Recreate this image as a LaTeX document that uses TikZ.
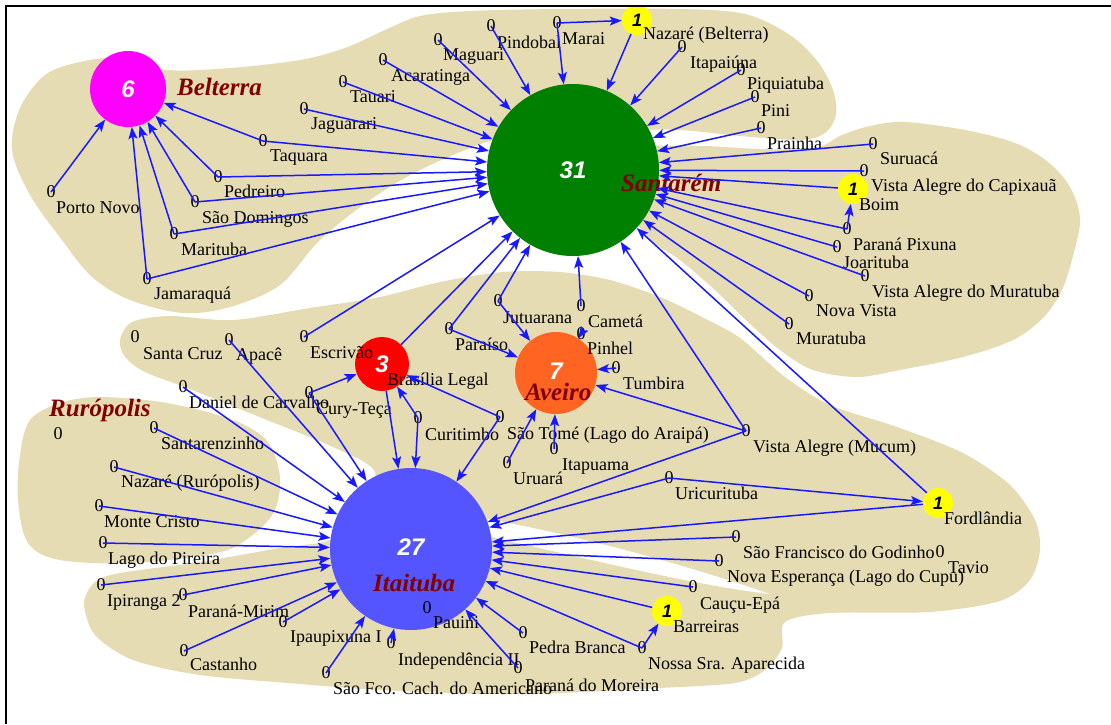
\documentclass[tikz,border=0pt]{standalone}
\usepackage{fontspec}
\setmainfont{Liberation Serif}
\newfontfamily\hubfont{Liberation Sans}
\usetikzlibrary{arrows.meta}
\definecolor{blobc}{RGB}{230,220,180}
\definecolor{arrblue}{RGB}{25,25,255}
\definecolor{regred}{RGB}{128,0,0}
\definecolor{avorange}{RGB}{255,100,34}
\definecolor{itblue}{RGB}{85,85,255}
\definecolor{sgreen}{RGB}{0,128,0}
\definecolor{bmag}{RGB}{255,0,255}
\definecolor{hred}{RGB}{255,0,0}
\definecolor{hyel}{RGB}{255,255,0}
\newcommand\lblfont{\fontsize{18}{20}\selectfont}
\newcommand\numfont{\hubfont\bfseries\itshape\fontsize{24}{26}\selectfont}
\newcommand\onefont{\hubfont\bfseries\itshape\fontsize{18}{20}\selectfont}
\newcommand\regfont{\bfseries\itshape\fontsize{25}{27}\selectfont}
\newcommand\pl[4]{\node[zero] (#1) at (#2) {0}; \node[lab] (#1l) at (#3) {#4};}
\begin{document}
\begin{tikzpicture}[x=1pt,y=-1pt,
  zero/.style={inner sep=0pt, font=\lblfont},
  lab/.style={anchor=base west, inner sep=0pt, font=\lblfont},
  hubc/.style={circle, inner sep=0pt, text=white, font=\numfont},
  yel/.style={circle, fill=hyel, minimum size=30pt, inner sep=0pt, font=\onefont},
  reg/.style={anchor=base west, inner sep=0pt, text=regred, font=\regfont},
  arr/.style={draw=arrblue, line width=1.5pt, -{Stealth[length=12pt,width=9pt,inset=2.5pt]}}
]
\useasboundingbox (0,0) rectangle (1111,724);
\fill[white] (0,0) rectangle (1111,724);
% ---- regions
\fill[blobc] plot[smooth cycle, tension=0.55] coordinates {(12,150) (20,108) (45,75) (80,62) (120,58) (167,70) (230,68) (300,60) (345,48) (385,30) (420,16) (470,11) (560,9) (680,9) (745,14) (790,35) (818,62) (833,90) (836,115) (825,133) (800,140) (740,136) (680,130) (620,130) (540,132) (487,142) (420,170) (370,200) (320,240) (280,285) (230,307) (183,313) (130,300) (92,277) (62,240) (30,195)};
\fill[blobc] plot[smooth cycle, tension=0.55] coordinates {(640,150) (700,146) (760,149) (815,148) (842,135) (870,126) (905,122) (965,130) (1015,143) (1048,162) (1070,187) (1080,218) (1074,252) (1062,290) (1043,318) (1013,340) (963,357) (900,370) (857,377) (813,370) (780,350) (748,322) (715,290) (680,260) (645,235) (625,190)};
\fill[blobc] plot[smooth cycle, tension=0.55] coordinates {(30,420) (60,403) (100,397) (167,403) (233,420) (268,442) (280,478) (274,512) (250,537) (217,553) (133,563) (60,560) (28,543) (18,500) (20,455)};
\fill[blobc] plot[smooth cycle, tension=0.5] coordinates {(120,340) (132,322) (170,316) (233,320) (310,308) (380,297) (440,282) (503,272) (560,272) (610,280) (660,297) (700,316) (740,338) (785,377) (830,405) (897,427) (963,453) (1010,485) (1035,520) (1040,550) (1030,580) (1000,601) (930,612) (830,613) (785,622) (782,648) (765,670) (735,683) (660,688) (560,693) (480,694) (380,690) (300,684) (200,675) (133,660) (95,635) (84,603) (95,582) (120,573) (200,562) (280,548) (330,540) (360,515) (375,472) (333,447) (267,420) (187,388) (145,372) (125,357)};
\fill[white] (488,519) .. controls (600,540) and (700,570) .. (770,594) .. controls (700,586) and (600,562) .. (488,536) -- cycle;
% ---- hubs
\node[hubc, fill=bmag, minimum size=76pt] (belt) at (128,89) {6};
\node[hubc, fill=sgreen, minimum size=172pt] (sant) at (573,170) {31};
\node[hubc, fill=avorange, minimum size=82pt] (avei) at (556,373) {\raisebox{3pt}{7}};
\node[hubc, fill=hred, minimum size=54pt] (bras) at (382,364) {3};
\node[hubc, fill=itblue, minimum size=162pt] (itai) at (411,549) {\raisebox{3pt}{27}};
\node[yel] (naz) at (637,20) {1};
\node[yel] (boim) at (853,189) {1};
\node[yel] (ford) at (938,503) {1};
\node[yel] (barr) at (667,611) {1};
% ---- region names
\node[reg] (rbelt) at (177,95) {Belterra};
\node[reg] (rsant) at (621,191) {Santarém};
\node[reg] (ravei) at (525,400) {Aveiro};
\node[reg] (ritai) at (373,591) {Itaituba};
\node[reg] (rruro) at (49,416) {Rurópolis};
% ---- labels of hubs
\node[lab] (nazl) at (643,39) {Nazaré (Belterra)};
\node[lab] (boiml) at (859,210) {Boim};
\node[lab] (fordl) at (944,524) {Fordlândia};
\node[lab] (barrl) at (673,632) {Barreiras};
\node[lab] (brasl) at (387,385) {Brasília Legal};
% ---- leaves
\pl{acar}{383,60}{391,81}{Acaratinga}
\pl{magu}{438,40}{443,60}{Maguari}
\pl{pind}{491,26}{497,48}{Pindobal}
\pl{mara}{557,23}{562,44}{Marai}
\pl{itap}{682,47}{690,68}{Itapaiúna}
\pl{piqu}{741,70}{747,89}{Piquiatuba}
\pl{pini}{755,97}{761,116}{Pini}
\pl{prai}{761,128}{767,149}{Prainha}
\pl{suru}{873,144}{880,164}{Suruacá}
\pl{vacap}{864,171}{871,191}{Vista Alegre do Capixauã}
\pl{ppix}{847,229}{853,250}{Paraná Pixuna}
\pl{joar}{837,247}{843,268}{Joarituba}
\pl{vamur}{865,276}{872,297}{Vista Alegre do Muratuba}
\pl{nvis}{809,296}{816,316}{Nova Vista}
\pl{mura}{789,324}{796,344}{Muratuba}
\pl{taua}{343,82}{350,102}{Tauari}
\pl{jagu}{304,109}{311,129}{Jaguarari}
\pl{taqu}{263,141}{270,161}{Taquara}
\pl{pedr}{218,177}{224,197}{Pedreiro}
\pl{sdom}{195,202}{202,223}{São Domingos}
\pl{mari}{174,234}{181,255}{Marituba}
\pl{jama}{147,279}{154,299}{Jamaraquá}
\pl{pnov}{51,192}{56,213}{Porto Novo}
\pl{scruz}{135,337}{143,359}{Santa Cruz}
\pl{apac}{229,340}{236,360}{Apacê}
\pl{escr}{304,337}{310,358}{Escrivão}
\pl{dani}{183,387}{189,408}{Daniel de Carvalho}
\pl{cury}{309,393}{316,414}{Cury-Teça}
\pl{curi}{418,418}{425,440}{Curitimbo}
\pl{stome}{500,417}{507,439}{São Tomé (Lago do Araipá)}
\pl{para}{449,329}{455,350}{Paraíso}
\pl{jutu}{498,301}{503,323}{Jutuarana}
\pl{came}{581,306}{588,327}{Cametá}
\pl{pinh}{581,334}{587,354}{Pinhel}
\pl{tumb}{616,368}{623,389}{Tumbira}
\pl{urua}{507,463}{513,484}{Uruará}
\pl{itpu}{554,449}{562,470}{Itapuama}
\pl{vamuc}{746,431}{753,452}{Vista Alegre (Mucum)}
\pl{uric}{669,478}{675,499}{Uricurituba}
\pl{sfg}{736,537}{743,558}{São Francisco do Godinho}
\pl{tavio}{940,552}{948,573}{Tavio}
\pl{nesp}{719,561}{727,582}{Nova Esperança (Lago do Cupu)}
\pl{caucu}{693,587}{700,609}{Cauçu-Epá}
\pl{nsra}{642,648}{648,669}{Nossa Sra. Aparecida}
\pl{pbra}{523,633}{529,653}{Pedra Branca}
\pl{pmor}{518,668}{525,691}{Paraná do Moreira}
\pl{paui}{427,608}{433,628}{Pauini}
\pl{inde}{391,643}{398,665}{Independência II}
\pl{sfco}{326,673}{333,694}{São Fco. Cach. do Americano}
\pl{ipau}{283,622}{290,642}{Ipaupixuna I}
\pl{cast}{184,651}{190,670}{Castanho}
\pl{pmir}{183,595}{188,617}{Paraná-Mirim}
\pl{ipir}{101,585}{107,606}{Ipiranga 2}
\pl{lpir}{103,543}{108,564}{Lago do Pireira}
\pl{mcri}{99,506}{104,527}{Monte Cristo}
\pl{nazr}{114,467}{121,487}{Nazaré (Rurópolis)}
\pl{szin}{154,428}{161,449}{Santarenzinho}
\node[zero] (ruro) at (58,434) {0};
% ---- connectors
\foreach \a in {pnov,taqu,pedr,sdom,mari,jama} \draw[arr] (\a.center) -- (belt);
\foreach \a in {acar,magu,pind,mara,itap,piqu,pini,prai,suru,vacap,ppix,joar,vamur,nvis,mura,taua,jagu,taqu,pedr,sdom,mari,jama,escr,para,jutu,came,vamuc} \draw[arr] (\a.center) -- (sant);
\foreach \a in {naz,boim,bras,ford} \draw[arr] (\a) -- (sant);
\draw[arr] (mara.center) -- (naz);
\draw[arr] (ppix.center) -- (boim);
\foreach \a in {jutu,para,pinh,tumb,vamuc,urua,itpu} \draw[arr] (\a.center) -- (avei);
\foreach \a in {cury,curi,stome} \draw[arr] (\a.center) -- (bras);
\foreach \a in {curi,stome,cury,apac,dani,szin,nazr,mcri,lpir,ipir,pmir,cast,ipau,sfco,inde,pmor,pbra,nsra,caucu,nesp,sfg,uric,vamuc} \draw[arr] (\a.center) -- (itai);
\foreach \a in {bras,barr,ford} \draw[arr] (\a) -- (itai);
\draw[arr] (uric.center) -- (ford);
\draw[arr] (nsra.center) -- (barr);
% ---- frame
\draw[line width=1.3pt] (6,724) -- (6,6) -- (1111,6);
\end{tikzpicture}
\end{document}
